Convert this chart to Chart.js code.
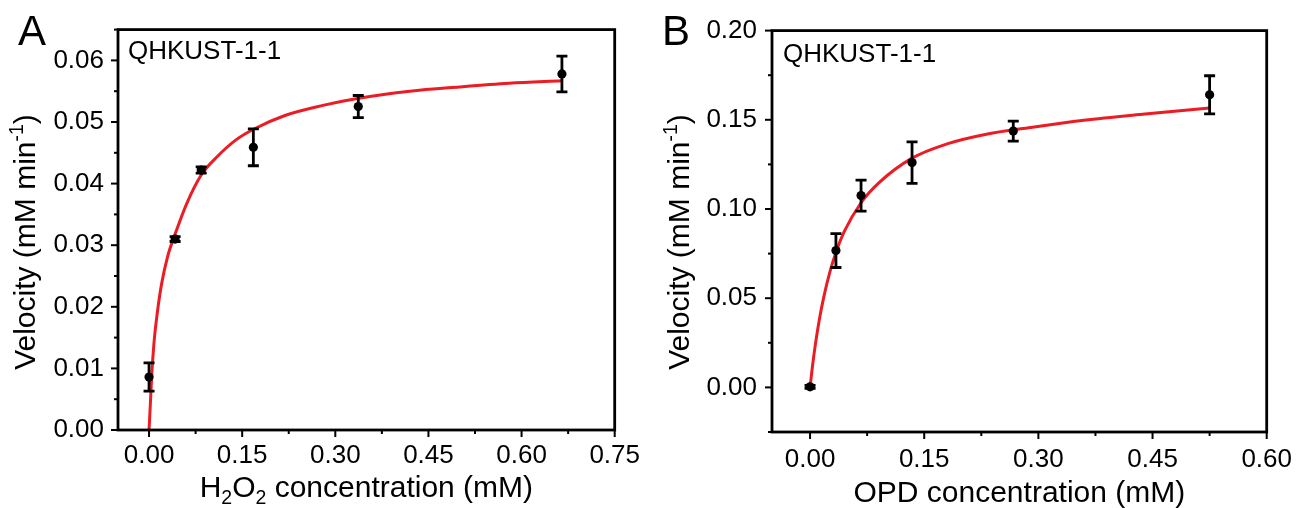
<!DOCTYPE html>
<html>
<head>
<meta charset="utf-8">
<script src="https://cdn.jsdelivr.net/npm/chart.js@4.4.0/dist/chart.umd.min.js"></script>
<style>
  html, body { margin: 0; padding: 0; background: #fff; }
  #wrap { position: relative; width: 1304px; height: 508px; }
  .panel { position: absolute; top: 0; height: 508px; }
</style>
</head>
<body>
<div id="wrap">
  <div class="panel" style="left:0;width:650px"><canvas id="chartA" width="650" height="508"></canvas></div>
  <div class="panel" style="left:650px;width:654px"><canvas id="chartB" width="654" height="508"></canvas></div>
</div>
<script>
// panel A - H2O2 as substrate
const concA = [0, 0.042, 0.084, 0.168, 0.337, 0.665];
const velA = [0.0086, 0.031, 0.0422, 0.0459, 0.0525, 0.0578];
const errA = [0.0023, 0.0004, 0.0005, 0.003, 0.0018, 0.0029];
// fitted curve
const fitXA = [0, 0.002, 0.0045, 0.008, 0.013, 0.02, 0.03, 0.042, 0.06, 0.084, 0.11, 0.14, 0.17, 0.22, 0.28, 0.34, 0.42, 0.5, 0.58, 0.665];
const fitYA = [0, 0.004, 0.0092, 0.0142, 0.0188, 0.0236, 0.0282, 0.0318, 0.0366, 0.0414, 0.0444, 0.0471, 0.0489, 0.0511, 0.0527, 0.0539, 0.055, 0.0557, 0.0563, 0.0567];
const xTicksA = [0, 0.15, 0.3, 0.45, 0.6, 0.75];
const yTicksA = [0, 0.01, 0.02, 0.03, 0.04, 0.05, 0.06];

// panel B - OPD as substrate
const concB = [0, 0.034, 0.067, 0.134, 0.267, 0.525];
const velB = [0.0003, 0.0767, 0.1075, 0.126, 0.1437, 0.164];
const errB = [0.0008, 0.0095, 0.0087, 0.0116, 0.0056, 0.0107];
const fitXB = [0, 0.003, 0.007, 0.012, 0.018, 0.026, 0.034, 0.045, 0.067, 0.09, 0.134, 0.18, 0.23, 0.29, 0.36, 0.44, 0.525];
const fitYB = [0, 0.0113, 0.0241, 0.0375, 0.0506, 0.0646, 0.0756, 0.0874, 0.1035, 0.1145, 0.1285, 0.1365, 0.1418, 0.1457, 0.1497, 0.1532, 0.1566];
const xTicksB = [0, 0.15, 0.3, 0.45, 0.6];
const yTicksB = [0, 0.05, 0.1, 0.15, 0.2];

const FONT = "'Liberation Sans', Arial, sans-serif";
const RED = '#ec1c24';
Chart.defaults.font.family = FONT;
Chart.defaults.color = '#000';

const isMajor = (v, list) => list.some(t => Math.abs(t - v) < 1e-9);

// draws text pieces with sub (1) / superscript (2) parts
function richText(ctx, parts, x, y, size) {
  const small = size * 0.65;
  let w = 0;
  parts.forEach(([t, m]) => {
    ctx.font = (m ? small : size) + 'px ' + FONT;
    w += ctx.measureText(t).width;
  });
  let cx = x - w / 2;
  parts.forEach(([t, m]) => {
    ctx.font = (m ? small : size) + 'px ' + FONT;
    const dy = m === 1 ? size * 0.24 : m === 2 ? -size * 0.4 : 0;
    ctx.fillText(t, cx, y + dy);
    cx += ctx.measureText(t).width;
  });
}

function makeChart(id, p) {
  const decor = {
    id: 'decor',
    afterDatasetsDraw(chart) {
      const { ctx, scales: { x, y } } = chart;
      ctx.save();
      ctx.strokeStyle = '#000';
      ctx.lineWidth = 2.8;
      p.conc.forEach((c, i) => {
        const px = x.getPixelForValue(c);
        const top = y.getPixelForValue(p.vel[i] + p.err[i]);
        const bot = y.getPixelForValue(p.vel[i] - p.err[i]);
        ctx.beginPath();
        ctx.moveTo(px, top); ctx.lineTo(px, bot);
        ctx.moveTo(px - 5.5, top); ctx.lineTo(px + 5.5, top);
        ctx.moveTo(px - 5.5, bot); ctx.lineTo(px + 5.5, bot);
        ctx.stroke();
      });
      ctx.restore();
    },
    afterDraw(chart) {
      const { ctx, chartArea: a, scales: { x, y } } = chart;
      ctx.save();
      ctx.strokeStyle = '#000';
      ctx.lineWidth = 2.8;
      ctx.strokeRect(a.left, a.top, a.right - a.left, a.bottom - a.top);
      ctx.lineWidth = 2;
      x.ticks.forEach(t => {
        const px = x.getPixelForValue(t.value);
        const len = isMajor(t.value, p.xMajor) ? 7 : 4;
        ctx.beginPath(); ctx.moveTo(px, a.bottom); ctx.lineTo(px, a.bottom + len); ctx.stroke();
      });
      y.ticks.forEach(t => {
        const py = y.getPixelForValue(t.value);
        const len = isMajor(t.value, p.yMajor) ? 7 : 4;
        ctx.beginPath(); ctx.moveTo(a.left, py); ctx.lineTo(a.left - len, py); ctx.stroke();
      });

      ctx.fillStyle = '#000';
      ctx.textBaseline = 'alphabetic';
      ctx.textAlign = 'left';
      ctx.font = '42px ' + FONT;
      ctx.fillText(p.letter, p.letterX, 45);
      ctx.font = '26px ' + FONT;
      ctx.fillText('QHKUST-1-1', p.sampleX, p.sampleY);

      richText(ctx, p.xTitle, (a.left + a.right) / 2, p.xTitleY, 30);
      ctx.translate(p.yTitleX, p.yTitleY);
      ctx.rotate(-Math.PI / 2);
      richText(ctx, [['Velocity (mM min', 0], ['-1', 2], [')', 0]], 0, 0, 30);
      ctx.restore();
    }
  };

  return new Chart(document.getElementById(id), {
    type: 'scatter',
    data: {
      datasets: [
        {
          data: p.fitX.map((v, i) => ({ x: v, y: p.fitY[i] })),
          showLine: true,
          borderColor: RED,
          borderWidth: 3,
          pointRadius: 0,
          cubicInterpolationMode: 'monotone',
          order: 2
        },
        {
          data: p.conc.map((v, i) => ({ x: v, y: p.vel[i] })),
          pointRadius: 4.6,
          pointBackgroundColor: '#000',
          pointBorderWidth: 0,
          order: 1
        }
      ]
    },
    options: {
      responsive: false,
      animation: false,
      events: [],
      layout: { padding: { top: p.padTop, right: p.padRight, left: 0, bottom: 0 } },
      plugins: { legend: { display: false }, tooltip: { enabled: false } },
      scales: {
        x: {
          type: 'linear',
          min: p.xMin, max: p.xMax,
          grid: { display: false, drawTicks: false },
          border: { display: false },
          afterFit: s => { s.height = p.xAxisH; },
          ticks: {
            stepSize: p.xStep,
            includeBounds: false,
            autoSkip: false,
            maxRotation: 0, minRotation: 0,
            padding: p.xPad,
            font: { size: 26 },
            callback: v => isMajor(v, p.xMajor) ? v.toFixed(2) : ''
          }
        },
        y: {
          type: 'linear',
          min: p.yMin, max: p.yMax,
          grid: { display: false, drawTicks: false },
          border: { display: false },
          afterFit: s => { s.width = p.yAxisW; },
          ticks: {
            stepSize: p.yStep,
            includeBounds: false,
            autoSkip: false,
            padding: p.yPad,
            font: { size: 26 },
            callback: v => isMajor(v, p.yMajor) ? v.toFixed(2) : ''
          }
        }
      }
    },
    plugins: [decor]
  });
}

makeChart('chartA', {
  conc: concA, vel: velA, err: errA, fitX: fitXA, fitY: fitYA,
  xMajor: xTicksA, yMajor: yTicksA,
  xMin: -0.05, xMax: 0.75, xStep: 0.075,
  yMin: 0, yMax: 0.065, yStep: 0.005,
  padTop: 25, padRight: 27, xAxisH: 78, yAxisW: 118, xPad: 10, yPad: 14,
  letter: 'A', letterX: 18, sampleX: 128, sampleY: 59,
  xTitle: [['H', 0], ['2', 1], ['O', 0], ['2', 1], [' concentration (mM)', 0]], xTitleY: 497,
  yTitleX: 35, yTitleY: 242
});

makeChart('chartB', {
  conc: concB, vel: velB, err: errB, fitX: fitXB, fitY: fitYB,
  xMajor: xTicksB, yMajor: yTicksB,
  xMin: -0.05, xMax: 0.6, xStep: 0.075,
  yMin: -0.025, yMax: 0.2, yStep: 0.025,
  padTop: 29, padRight: 32, xAxisH: 76, yAxisW: 122, xPad: 12, yPad: 15,
  letter: 'B', letterX: 12, sampleX: 133, sampleY: 62,
  xTitle: [['OPD concentration (mM)', 0]], xTitleY: 502,
  yTitleX: 39, yTitleY: 242
});
</script>
</body>
</html>
